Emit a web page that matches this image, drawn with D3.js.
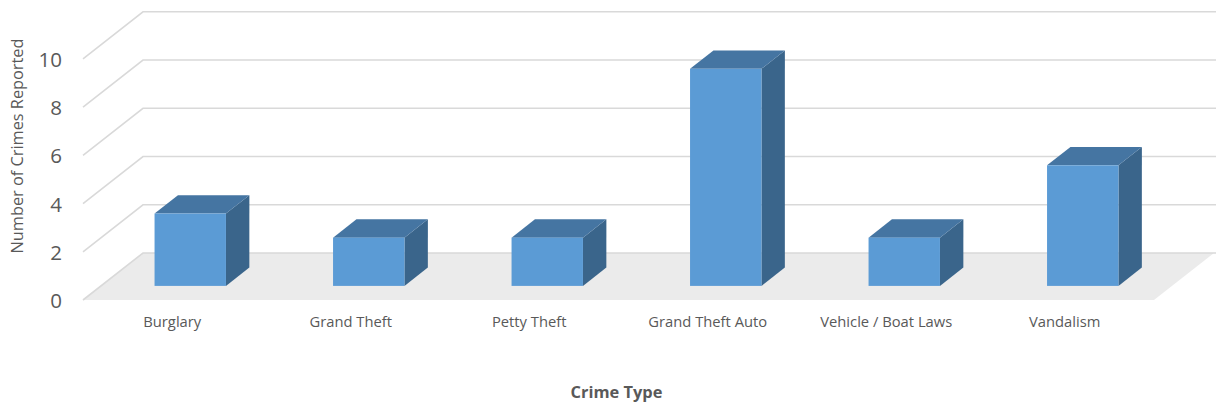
<!DOCTYPE html>
<html><head><meta charset="utf-8">
<script src="https://cdn.jsdelivr.net/npm/d3@7"></script>
<style>body{margin:0;background:#fff}svg{display:block}</style>
</head><body>
<script>
const categories = ["Burglary", "Grand Theft", "Petty Theft", "Grand Theft Auto", "Vehicle / Boat Laws", "Vandalism"];
const crimesReported = [3, 2, 2, 9, 2, 5];
const yTicks = [0, 2, 4, 6, 8, 10];
const yAxisTitle = "Number of Crimes Reported";
const xAxisTitle = "Crime Type";

const W = 1216, H = 409;
const FONT = "'Open Sans', 'Noto Sans', sans-serif";
const svg = d3.select("body").append("svg").attr("width", W).attr("height", H);

const x = d3.scaleBand().domain(categories).range([83, 1154]);
const y = d3.scaleLinear().domain([0, 10]).range([300, 58.8]);
const DX = 60, DY = -47;           // depth vector of the 3D floor
const f0 = 0.30, f1 = 0.69;        // bar depth start/end as fraction of floor depth
const barFrac = 0.4;

function fit(sel, target) {
  const n = sel.node();
  const fs = parseFloat(sel.attr("font-size"));
  const w = n.getComputedTextLength();
  sel.attr("font-size", (fs * target / w).toFixed(2));
  return sel;
}

// floor
const x0 = x.range()[0], x1 = x.range()[1];
svg.append("polygon")
  .attr("points", [[x0, y(0)], [x0 + DX, y(0) + DY], [x1 + DX, y(0) + DY], [x1, y(0)]].map(p => p.join(",")).join(" "))
  .attr("fill", "#ebebeb");

// gridlines (left side wall edge + back wall)
svg.append("g").selectAll("polyline").data(yTicks).join("polyline")
  .attr("points", v => [[x0, y(v)], [x0 + DX, y(v) + DY], [W, y(v) + DY]].map(p => p.join(",")).join(" "))
  .attr("fill", "none").attr("stroke", "#d9d9d9").attr("stroke-width", 1.6);

// bars
const bw = x.bandwidth() * barFrac;
const ddx = (f1 - f0) * DX, ddy = (f1 - f0) * DY;
const bars = svg.append("g").selectAll("g").data(categories.map((c, i) => ({c, v: crimesReported[i]}))).join("g");
bars.each(function(d) {
  const g = d3.select(this);
  const bx = x(d.c) + x.bandwidth() / 2 - bw / 2 + f0 * DX;
  const b0 = y(0) + f0 * DY, bt = y(d.v) + f0 * DY;
  g.append("polygon").attr("fill", "#3a658b")
    .attr("points", [[bx + bw, bt], [bx + bw + ddx, bt + ddy], [bx + bw + ddx, b0 + ddy], [bx + bw, b0]].map(p => p.join(",")).join(" "));
  g.append("polygon").attr("fill", "#4575a2")
    .attr("points", [[bx, bt], [bx + ddx, bt + ddy], [bx + bw + ddx, bt + ddy], [bx + bw, bt]].map(p => p.join(",")).join(" "));
  g.append("rect").attr("x", bx).attr("y", bt).attr("width", bw).attr("height", b0 - bt).attr("fill", "#5b9bd5");
});

// y tick labels
const ty = svg.append("g").selectAll("text").data(yTicks).join("text")
  .attr("x", 62).attr("y", v => y(v)).attr("text-anchor", "end").attr("dominant-baseline", "central")
  .attr("font-family", FONT).attr("font-size", 20).attr("fill", "#595959").text(v => v);
fit(ty.filter(v => v === 10), 23.5);
ty.attr("font-size", ty.filter(v => v === 10).attr("font-size"));

// category labels
const cl = svg.append("g").selectAll("text").data(categories).join("text")
  .attr("x", c => x(c) + x.bandwidth() / 2).attr("y", 326.5).attr("text-anchor", "middle")
  .attr("font-family", FONT).attr("font-size", 13).attr("fill", "#595959").text(c => c);
fit(cl.filter(c => c === "Burglary"), 58);
cl.attr("font-size", cl.filter(c => c === "Burglary").attr("font-size"));

// axis titles
fit(svg.append("text").attr("transform", "translate(22.5,146) rotate(-90)").attr("text-anchor", "middle")
  .attr("font-family", FONT).attr("font-size", 15).attr("fill", "#595959").text(yAxisTitle), 215);
fit(svg.append("text").attr("x", 616.5).attr("y", 398).attr("text-anchor", "middle")
  .attr("font-family", FONT).attr("font-size", 14).attr("font-weight", "bold").attr("fill", "#595959").text(xAxisTitle), 92);
</script>
</body></html>
